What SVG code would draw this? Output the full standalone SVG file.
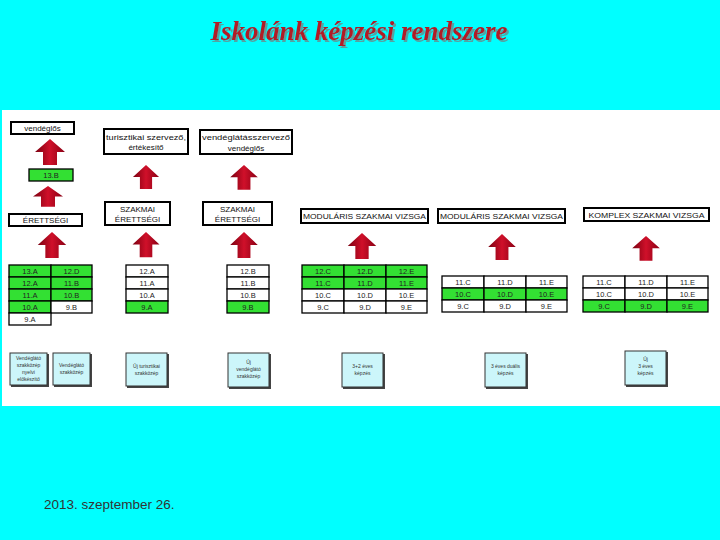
<svg xmlns="http://www.w3.org/2000/svg" width="720" height="540" viewBox="0 0 720 540">
<defs>
<linearGradient id="ag" x1="0" y1="0" x2="1" y2="0">
<stop offset="0" stop-color="#7a0010"/>
<stop offset="0.5" stop-color="#d0102a"/>
<stop offset="1" stop-color="#8a0014"/>
</linearGradient>
<filter id="ts" x="-5%" y="-20%" width="110%" height="140%">
<feDropShadow dx="2" dy="2" stdDeviation="0.6" flood-color="#6a8a8a" flood-opacity="0.8"/>
</filter>
<path id="arr" d="M0,0 L15,13 L7,13 L7,26 L-7,26 L-7,13 L-15,13 Z" fill="url(#ag)"/>
<style>
.bx{fill:#fff;stroke:#000;stroke-width:2}
.t{font-family:"Liberation Sans",Arial,sans-serif;font-size:8px;fill:#111;text-anchor:middle}
.g{fill:#33e033;stroke:#000;stroke-width:1.3}
.w{fill:#fff;stroke:#000;stroke-width:1.3}
.c{font-family:"Liberation Sans",Arial,sans-serif;font-size:7.5px;fill:#222;text-anchor:middle}
.lb{fill:#ccf6fa;stroke:#333;stroke-width:1}
.sh{fill:#444}
.s{font-family:"Liberation Sans",Arial,sans-serif;font-size:5px;fill:#333;text-anchor:middle}
</style>
</defs>
<rect x="0" y="0" width="720" height="540" fill="#00ffff"/>
<rect x="2" y="110" width="718" height="296" fill="#fff"/>
<text x="359" y="40" font-family="Liberation Serif,serif" font-style="italic" font-weight="bold" font-size="27" fill="#b01c28" text-anchor="middle" filter="url(#ts)">Iskolánk képzési rendszere</text>

<g id="connectors">
<use href="#arr" transform="translate(50,139)"/>
<use href="#arr" transform="translate(48,186) scale(1,0.8)"/>
<use href="#arr" transform="translate(146,165) scale(0.87,0.92)"/>
<use href="#arr" transform="translate(244,165) scale(0.92,0.95)"/>
<use href="#arr" transform="translate(52,232) scale(0.95,1)"/>
<use href="#arr" transform="translate(146,232) scale(0.9,0.97)"/>
<use href="#arr" transform="translate(244,232) scale(0.92,1)"/>
<use href="#arr" transform="translate(362,233) scale(0.95,1)"/>
<use href="#arr" transform="translate(502,234) scale(0.92,1)"/>
<use href="#arr" transform="translate(646,236) scale(0.92,0.95)"/>
</g>

<g id="n-vendeglos"><rect class="bx" x="11" y="122" width="63" height="12"/><text class="t" x="42.5" y="131">vendéglős</text></g>
<g id="n-turisztikai"><rect class="bx" x="104" y="129" width="84" height="25"/><text class="t" x="146" y="139.5" textLength="80" lengthAdjust="spacingAndGlyphs">turisztikai szervező,</text><text class="t" x="146" y="150">értékesítő</text></g>
<g id="n-vendeglatas"><rect class="bx" x="200" y="130" width="92" height="24"/><text class="t" x="246" y="140" textLength="88" lengthAdjust="spacingAndGlyphs">vendéglátásszervező</text><text class="t" x="246" y="150.5">vendéglős</text></g>
<g id="n-13b"><rect class="g" x="29" y="169" width="44" height="12" stroke-width="2"/><text class="c" x="51" y="178">13.B</text></g>
<g id="n-erettsegi"><rect class="bx" x="9" y="214" width="73" height="12"/><text class="t" x="45.5" y="223">ÉRETTSÉGI</text></g>
<g id="n-szakmai1"><rect class="bx" x="105" y="202" width="65" height="23"/><text class="t" x="137.5" y="212">SZAKMAI</text><text class="t" x="137.5" y="222">ÉRETTSÉGI</text></g>
<g id="n-szakmai2"><rect class="bx" x="203" y="202" width="69" height="23"/><text class="t" x="237.5" y="212">SZAKMAI</text><text class="t" x="237.5" y="222">ÉRETTSÉGI</text></g>
<g id="n-modularis1"><rect class="bx" x="301" y="209" width="127" height="14"/><text class="t" x="364.5" y="219" textLength="123" lengthAdjust="spacingAndGlyphs">MODULÁRIS SZAKMAI VIZSGA</text></g>
<g id="n-modularis2"><rect class="bx" x="438" y="209" width="127" height="14"/><text class="t" x="501.5" y="219" textLength="123" lengthAdjust="spacingAndGlyphs">MODULÁRIS SZAKMAI VIZSGA</text></g>
<g id="n-komplex"><rect class="bx" x="584" y="208" width="125" height="13"/><text class="t" x="646.5" y="217.5" textLength="116" lengthAdjust="spacingAndGlyphs">KOMPLEX SZAKMAI VIZSGA</text></g>

<g id="n-table1">
<rect class="g" x="9" y="265" width="42" height="12"/><text class="c" x="30" y="274">13.A</text>
<rect class="g" x="51" y="265" width="41" height="12"/><text class="c" x="71.5" y="274">12.D</text>
<rect class="g" x="9" y="277" width="42" height="12"/><text class="c" x="30" y="286">12.A</text>
<rect class="g" x="51" y="277" width="41" height="12"/><text class="c" x="71.5" y="286">11.B</text>
<rect class="g" x="9" y="289" width="42" height="12"/><text class="c" x="30" y="298">11.A</text>
<rect class="g" x="51" y="289" width="41" height="12"/><text class="c" x="71.5" y="298">10.B</text>
<rect class="g" x="9" y="301" width="42" height="12"/><text class="c" x="30" y="310">10.A</text>
<rect class="w" x="51" y="301" width="41" height="12"/><text class="c" x="71.5" y="310">9.B</text>
<rect class="w" x="9" y="313" width="42" height="12"/><text class="c" x="30" y="322">9.A</text>
</g>
<g id="n-table2">
<rect class="w" x="126" y="265" width="42" height="12"/><text class="c" x="147" y="274">12.A</text>
<rect class="w" x="126" y="277" width="42" height="12"/><text class="c" x="147" y="286">11.A</text>
<rect class="w" x="126" y="289" width="42" height="12"/><text class="c" x="147" y="298">10.A</text>
<rect class="g" x="126" y="301" width="42" height="12"/><text class="c" x="147" y="310">9.A</text>
</g>
<g id="n-table3">
<rect class="w" x="227" y="265" width="42" height="12"/><text class="c" x="248" y="274">12.B</text>
<rect class="w" x="227" y="277" width="42" height="12"/><text class="c" x="248" y="286">11.B</text>
<rect class="w" x="227" y="289" width="42" height="12"/><text class="c" x="248" y="298">10.B</text>
<rect class="g" x="227" y="301" width="42" height="12"/><text class="c" x="248" y="310">9.B</text>
</g>
<g id="n-table4">
<rect class="g" x="302" y="265" width="42" height="12"/><text class="c" x="323" y="274">12.C</text>
<rect class="g" x="344" y="265" width="42" height="12"/><text class="c" x="365" y="274">12.D</text>
<rect class="g" x="386" y="265" width="41" height="12"/><text class="c" x="406.5" y="274">12.E</text>
<rect class="g" x="302" y="277" width="42" height="12"/><text class="c" x="323" y="286">11.C</text>
<rect class="g" x="344" y="277" width="42" height="12"/><text class="c" x="365" y="286">11.D</text>
<rect class="g" x="386" y="277" width="41" height="12"/><text class="c" x="406.5" y="286">11.E</text>
<rect class="w" x="302" y="289" width="42" height="12"/><text class="c" x="323" y="298">10.C</text>
<rect class="w" x="344" y="289" width="42" height="12"/><text class="c" x="365" y="298">10.D</text>
<rect class="w" x="386" y="289" width="41" height="12"/><text class="c" x="406.5" y="298">10.E</text>
<rect class="w" x="302" y="301" width="42" height="12"/><text class="c" x="323" y="310">9.C</text>
<rect class="w" x="344" y="301" width="42" height="12"/><text class="c" x="365" y="310">9.D</text>
<rect class="w" x="386" y="301" width="41" height="12"/><text class="c" x="406.5" y="310">9.E</text>
</g>
<g id="n-table5">
<rect class="w" x="442" y="276" width="42" height="12"/><text class="c" x="463" y="285">11.C</text>
<rect class="w" x="484" y="276" width="42" height="12"/><text class="c" x="505" y="285">11.D</text>
<rect class="w" x="526" y="276" width="41" height="12"/><text class="c" x="546.5" y="285">11.E</text>
<rect class="g" x="442" y="288" width="42" height="12"/><text class="c" x="463" y="297">10.C</text>
<rect class="g" x="484" y="288" width="42" height="12"/><text class="c" x="505" y="297">10.D</text>
<rect class="g" x="526" y="288" width="41" height="12"/><text class="c" x="546.5" y="297">10.E</text>
<rect class="w" x="442" y="300" width="42" height="12"/><text class="c" x="463" y="309">9.C</text>
<rect class="w" x="484" y="300" width="42" height="12"/><text class="c" x="505" y="309">9.D</text>
<rect class="w" x="526" y="300" width="41" height="12"/><text class="c" x="546.5" y="309">9.E</text>
</g>
<g id="n-table6">
<rect class="w" x="583" y="276" width="42" height="12"/><text class="c" x="604" y="285">11.C</text>
<rect class="w" x="625" y="276" width="42" height="12"/><text class="c" x="646" y="285">11.D</text>
<rect class="w" x="667" y="276" width="41" height="12"/><text class="c" x="687.5" y="285">11.E</text>
<rect class="w" x="583" y="288" width="42" height="12"/><text class="c" x="604" y="297">10.C</text>
<rect class="w" x="625" y="288" width="42" height="12"/><text class="c" x="646" y="297">10.D</text>
<rect class="w" x="667" y="288" width="41" height="12"/><text class="c" x="687.5" y="297">10.E</text>
<rect class="g" x="583" y="300" width="42" height="12"/><text class="c" x="604" y="309">9.C</text>
<rect class="g" x="625" y="300" width="42" height="12"/><text class="c" x="646" y="309">9.D</text>
<rect class="g" x="667" y="300" width="41" height="12"/><text class="c" x="687.5" y="309">9.E</text>
</g>

<g id="n-info1"><rect class="sh" x="11" y="354" width="38" height="33"/><rect class="lb" x="10" y="353" width="37" height="32"/><text class="s" x="28.5" y="360">Vendéglátó</text><text class="s" x="28.5" y="367">szakközép</text><text class="s" x="28.5" y="374">nyelvi</text><text class="s" x="28.5" y="381">előkészítő</text></g>
<g id="n-info2"><rect class="sh" x="54" y="354" width="38" height="33"/><rect class="lb" x="53" y="353" width="37" height="32"/><text class="s" x="71.5" y="367">Vendéglátó</text><text class="s" x="71.5" y="374">szakközép</text></g>
<g id="n-info3"><rect class="sh" x="127" y="354" width="42" height="34"/><rect class="lb" x="126" y="353" width="41" height="33"/><text class="s" x="146.5" y="368">Új turisztikai</text><text class="s" x="146.5" y="375">szakközép</text></g>
<g id="n-info4"><rect class="sh" x="229" y="354" width="42" height="35"/><rect class="lb" x="228" y="353" width="41" height="34"/><text class="s" x="248.5" y="364">Új</text><text class="s" x="248.5" y="371">vendéglátó</text><text class="s" x="248.5" y="378">szakközép</text></g>
<g id="n-info5"><rect class="sh" x="343" y="354" width="42" height="35"/><rect class="lb" x="342" y="353" width="41" height="34"/><text class="s" x="362.5" y="368">3+2 éves</text><text class="s" x="362.5" y="375">képzés</text></g>
<g id="n-info6"><rect class="sh" x="486" y="354" width="42" height="35"/><rect class="lb" x="485" y="353" width="41" height="34"/><text class="s" x="505.5" y="368">3 éves duális</text><text class="s" x="505.5" y="375">képzés</text></g>
<g id="n-info7"><rect class="sh" x="626" y="352" width="42" height="35"/><rect class="lb" x="625" y="351" width="41" height="34"/><text class="s" x="645.5" y="361">Új</text><text class="s" x="645.5" y="368">3 éves</text><text class="s" x="645.5" y="375">képzés</text></g>

<text x="44" y="509" font-family="Liberation Sans,Arial,sans-serif" font-size="13.5" fill="#333">2013. szeptember 26.</text>
</svg>
